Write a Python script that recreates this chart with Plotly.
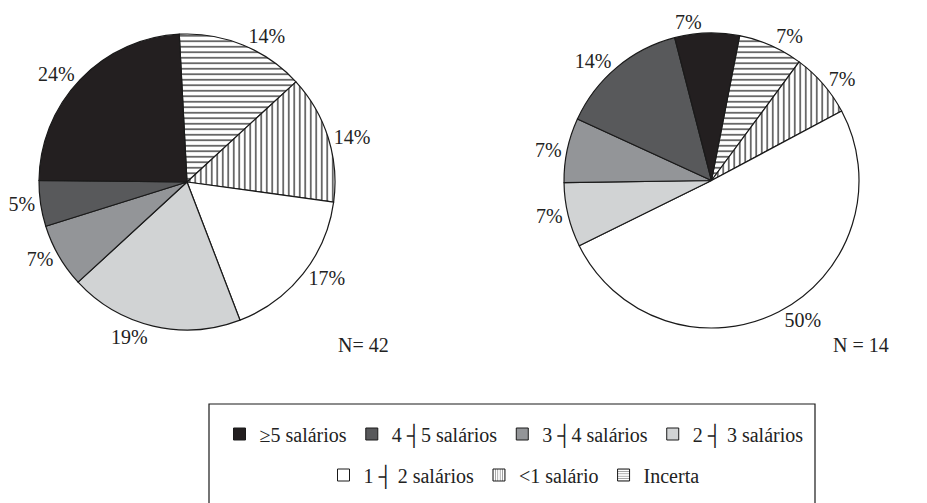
import plotly.graph_objects as go

# Income brackets, in legend order
categories = ["≥5 salários", "4 ┤5 salários", "3 ┤4 salários", "2 ┤ 3 salários",
              "1 ┤ 2 salários", "<1 salário", "Incerta"]
fill_colors = ["#231f20", "#58595b", "#939598", "#d1d3d4", "#ffffff", "#ffffff", "#ffffff"]
patterns = ["", "", "", "", "", "|", "-"]

# Percentage shares of each bracket
left_pct = [24, 5, 7, 19, 17, 14, 14]    # N = 42
right_pct = [7, 14, 7, 7, 50, 7, 7]      # N = 14

sample_labels = ["N= 42", "N = 14"]

FONT = "Liberation Serif"
INK = "#222222"
W, H = 927, 503

fig = go.Figure()


def pie_trace(values, domain_x, domain_y, rotation):
    # slices are laid out clockwise starting from "Incerta"
    rev = list(reversed(range(len(categories))))
    return go.Pie(
        labels=[categories[i] for i in rev],
        values=[values[i] for i in rev],
        sort=False,
        direction="clockwise",
        rotation=rotation,
        domain=dict(x=domain_x, y=domain_y),
        marker=dict(
            colors=[fill_colors[i] for i in rev],
            line=dict(color="#1a1a1a", width=1.2),
            pattern=dict(shape=[patterns[i] for i in rev], fgcolor="#1a1a1a",
                         bgcolor="#ffffff", size=5.5, solidity=0.22),
        ),
        texttemplate="%{value}%",
        textposition="outside",
        outsidetextfont=dict(family=FONT, size=20, color=INK),
        showlegend=False,
        hoverinfo="label+value",
    )


fig.add_trace(pie_trace(left_pct, [39 / W, 335 / W], [1 - 330 / H, 1 - 34 / H], -3))
fig.add_trace(pie_trace(right_pct, [564 / W, 859 / W], [1 - 328 / H, 1 - 33 / H], 11))

# Legend entries split across two centred rows
for i, (cat, col, pat) in enumerate(zip(categories, fill_colors, patterns)):
    fig.add_trace(go.Bar(
        x=[None], y=[None], name=cat,
        marker=dict(color=col, line=dict(color="#1a1a1a", width=1),
                    pattern=dict(shape=pat, fgcolor="#1a1a1a", bgcolor="#ffffff",
                                 size=3, solidity=0.3)),
        legend="legend" if i < 4 else "legend2",
        showlegend=True, hoverinfo="skip",
    ))

legend_font = dict(family=FONT, size=20, color=INK)
legend_style = dict(orientation="h", xanchor="center", yanchor="middle",
                    bgcolor="rgba(0,0,0,0)", borderwidth=0)

fig.update_layout(
    width=W, height=H,
    margin=dict(l=0, r=0, t=0, b=0),
    font=dict(family=FONT, color=INK),
    paper_bgcolor="white", plot_bgcolor="white",
    xaxis=dict(visible=False), yaxis=dict(visible=False),
    legend=dict(x=514 / W, y=1 - 434 / H, font=legend_font, **legend_style),
    legend2=dict(x=514 / W, y=1 - 475 / H, font=legend_font, **legend_style),
    shapes=[dict(type="rect", xref="paper", yref="paper",
                 x0=209 / W, x1=815 / W, y0=1 - 404 / H, y1=-0.05,
                 line=dict(color="#1a1a1a", width=1.2), fillcolor="rgba(0,0,0,0)")],
    annotations=[
        dict(text=sample_labels[0], x=363 / W, y=1 - 358 / H, xref="paper", yref="paper",
             showarrow=False, font=dict(family=FONT, size=20, color=INK)),
        dict(text=sample_labels[1], x=891 / W, y=1 - 358 / H, xref="paper", yref="paper",
             showarrow=False, font=dict(family=FONT, size=20, color=INK)),
    ],
)

fig.write_html("out.html")
